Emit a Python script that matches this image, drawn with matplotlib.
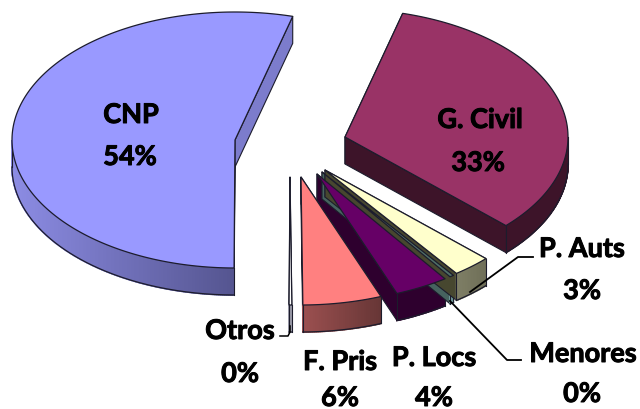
import numpy as np
import matplotlib
matplotlib.use('Agg')
import matplotlib.pyplot as plt
import matplotlib.patheffects as pe
from matplotlib.colors import to_rgb

# slices, clockwise starting from the top right
labels = ['G. Civil', 'P. Auts', 'Menores', 'P. Locs', 'F. Pris', 'Otros', 'CNP']
values = [33.0, 2.8, 0.3, 3.9, 5.7, 0.2, 54.1]

# exploded centre of each slice, in pixels
centres = [(345, 137), (325, 170), (322, 172), (317, 174), (301, 177), (290, 177), (235, 140)]
top_colors = ['#993366', '#FFFFCC', '#4F6F66', '#660066', '#FF8080', '#FFFFFF', '#9999FF']
cut_colors = ['#3D1429', '#47472F', '#46635F', '#2E002E', '#8A4646', '#9A9AA8', '#7C7CCC']
rim_left = ['#3D1429', '#7F7F66', '#6F9A9A', '#2E002E', '#9C5050', '#9A9AA8', '#8C8CE4']
rim_right = ['#3D1429', '#6F6F58', '#6F9A9A', '#2E002E', '#673636', '#9A9AA8', '#555590']

RX, RY = 223, 128
DEPTH = 27
START = 15.0
EDGE = '#1c1c2c'


def ellipse(cx, cy, theta):
    # theta in degrees, clockwise from the top
    t = np.radians(theta)
    return cx + RX * np.sin(t), cy - RY * np.cos(t)


def mix(c1, c2, f):
    a, b = np.array(to_rgb(c1)), np.array(to_rgb(c2))
    return tuple(a + (b - a) * f)


fig = plt.figure(figsize=(6.4, 4.09), dpi=100)
ax = fig.add_axes([0, 0, 1, 1])
ax.set_xlim(0, 640)
ax.set_ylim(409, 0)
ax.axis('off')

spans = np.array(values) / sum(values) * 360
starts = START + np.concatenate([[0], np.cumsum(spans)[:-1]])

for i in [6, 5, 4, 3, 2, 1, 0]:
    cx, cy = centres[i]
    a0, a1 = starts[i], starts[i] + spans[i]
    theta = np.linspace(a0, a1, max(int(spans[i] * 2), 6))
    xs, ys = ellipse(cx, cy, theta)
    z = 10 + (6 - i)

    # the two cut faces
    for a in (a0, a1):
        ex, ey = ellipse(cx, cy, a)
        ax.fill([cx, ex, ex, cx], [cy, ey, ey + DEPTH, cy + DEPTH],
                facecolor=cut_colors[i], edgecolor=EDGE, lw=0.8, zorder=z)

    # outer rim, only the part that faces the viewer
    lo, hi = max(a0, 90), min(a1, 270)
    if hi > lo:
        rim = np.linspace(lo, hi, max(int((hi - lo) * 2), 8))
        rx, ry = ellipse(cx, cy, rim)
        for j in range(len(rim) - 1):
            f = (rx[j] - rx.min()) / (rx.max() - rx.min())
            col = mix(rim_left[i], rim_right[i], f)
            ax.fill([rx[j], rx[j + 1], rx[j + 1], rx[j]],
                    [ry[j], ry[j + 1], ry[j + 1] + DEPTH, ry[j] + DEPTH],
                    facecolor=col, edgecolor=col, lw=1.2, zorder=z)
        ax.plot(rx, ry + DEPTH, color=EDGE, lw=0.9, zorder=z)
        ax.plot([rx[0], rx[0]], [ry[0], ry[0] + DEPTH], color=EDGE, lw=0.8, zorder=z)
        ax.plot([rx[-1], rx[-1]], [ry[-1], ry[-1] + DEPTH], color=EDGE, lw=0.8, zorder=z)

    # top surface
    ax.fill(np.r_[cx, xs], np.r_[cy, ys], facecolor=top_colors[i], edgecolor=EDGE,
            lw=0.9, joinstyle='round', zorder=30)

# leader lines
ax.plot([280, 288, 290, 290], [336, 336, 332, 326], color='black', lw=1.1, zorder=31)
ax.plot([470, 518, 533], [292, 257, 257], color='black', lw=1.3, zorder=31)
ax.plot([450, 507, 521], [301, 360, 360], color='black', lw=1.3, zorder=31)

# label position per slice, name line then percent line
name_xy = [(480, 120), (582, 249), (583, 354), (434, 358), (340, 362), (240, 331), (131, 115)]
pct_xy = [(478, 163), (582, 291), (582, 394), (434, 398), (340, 398), (240, 374), (130, 157)]
thick = [pe.withStroke(linewidth=0.7, foreground='black')]

for i, lab in enumerate(labels):
    ax.text(*name_xy[i], lab, family='Lato', weight='bold', fontsize=19.5,
            color='black', ha='center', va='center', zorder=40, path_effects=thick)
    ax.text(*pct_xy[i], f'{round(values[i])}%', family='Lato', weight='bold', fontsize=19.5,
            color='black', ha='center', va='center', zorder=40, path_effects=thick)

fig.savefig('out.png', dpi=100)
